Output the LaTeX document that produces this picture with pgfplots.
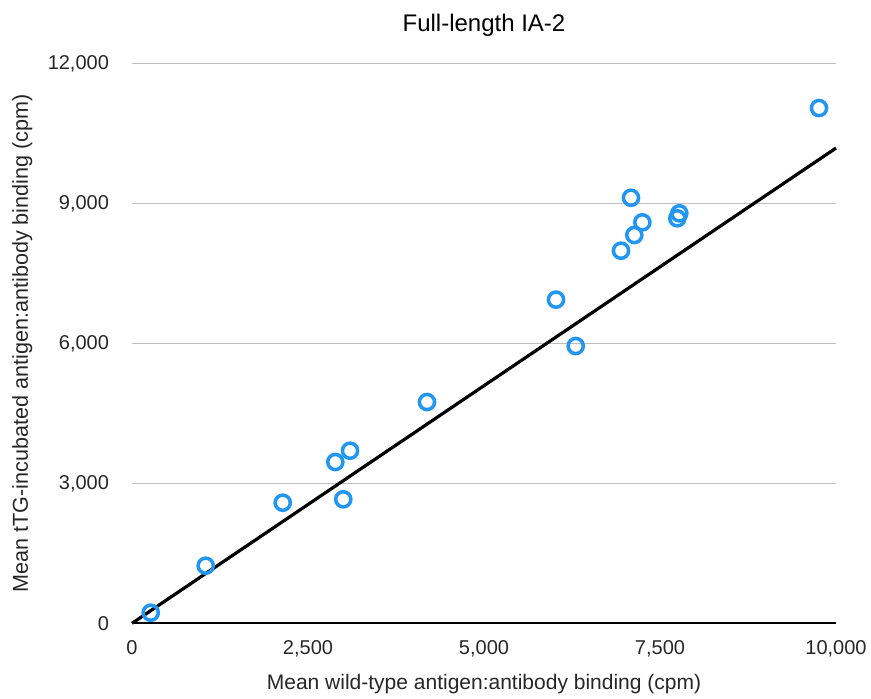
\documentclass[border=0pt]{standalone}
\usepackage{pgfplots}
\pgfplotsset{compat=1.18}
\usepackage{fontspec}
\setmainfont{Liberation Sans}
\definecolor{ptblue}{RGB}{33,150,243}
\definecolor{gridgray}{RGB}{190,190,190}
\begin{document}
\begin{tikzpicture}
\begin{axis}[
  at={(0,0)}, anchor=south west,
  scale only axis,
  width=352pt, height=280pt,
  xmin=0, xmax=10000, ymin=0, ymax=12000,
  xtick={0,2500,5000,7500,10000},
  ytick={0,3000,6000,9000,12000},
  scaled ticks=false,
  /pgf/number format/.cd, 1000 sep={,}, assume math mode=true,
  /pgfplots/.cd,
  axis lines*=left,
  y axis line style={draw=none},
  x axis line style={black, line width=1pt},
  ymajorgrids,
  major grid style={gridgray, line width=0.8pt},
  major tick length=0pt,
  tick label style={font=\fontsize{10}{12}\selectfont, text=black!85},
  yticklabel style={xshift=-8pt},
  xticklabel style={yshift=-5pt},
  clip=false,
]
\addplot[only marks, mark=o, mark size=3.8pt, mark options={draw=ptblue, line width=1.75pt}]
coordinates {
(266,227) (1047,1234) (2141,2584) (2888,3456) (3097,3698) (3001,2657)
(4190,4742) (6023,6936) (6303,5942) (6946,7984) (7088,9119) (7135,8320)
(7249,8592) (7746,8678) (7774,8785) (9759,11041)
};
\addplot[black, line width=1.6pt, no marks] coordinates {(0,0) (10000,10184)};
\node[anchor=base, font=\fontsize{12}{14}\selectfont] at ([yshift=15.8pt]rel axis cs:0.5,1) {Full-length IA-2};
\node[anchor=base, font=\fontsize{10.5}{12}\selectfont, text=black!85] at ([yshift=-33.3pt]rel axis cs:0.5,0) {Mean wild-type antigen:antibody binding (cpm)};
\node[anchor=base, rotate=90, font=\fontsize{10.8}{12}\selectfont, text=black!85] at ([xshift=-52pt]rel axis cs:0,0.5) {Mean tTG-incubated antigen:antibody binding (cpm)};
\end{axis}
\pgfresetboundingbox
\path (-66pt,-37.35pt) rectangle (369.5pt,311.65pt);
\end{tikzpicture}
\end{document}
